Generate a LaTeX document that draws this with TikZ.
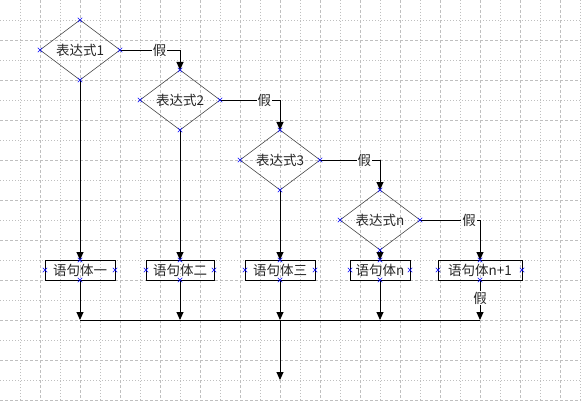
\documentclass[tikz,border=0pt]{standalone}
\usepackage{fontspec}
\setmainfont{Noto Sans CJK SC}
\usetikzlibrary{shapes.geometric,shapes.misc,arrows.meta}

\begin{document}
\begin{tikzpicture}[x=1pt,y=-1pt,>={Triangle[width=7pt,length=8pt]},
    cond/.style={diamond,draw=black!70,line width=0.6pt,aspect=1.333,
        minimum width=80pt,minimum height=60pt,inner sep=0pt,outer sep=0pt,
        text=black!85,font=\fontsize{13.5}{15}\selectfont},
    stmt/.style={rectangle,draw=black,line width=0.8pt,minimum height=20pt,
        inner sep=0pt,outer sep=0pt,text=black!85,font=\fontsize{13.5}{15}\selectfont},
    flow/.style={->,line width=0.9pt},
    lbl/.style={fill=white,inner sep=1pt,text=black!85,font=\fontsize{13.5}{15}\selectfont},
    xpt/.style={cross out,draw=blue,line width=0.5pt,minimum size=4pt,inner sep=0pt}]
    % Background and grid
    \fill[white] (0,0) rectangle (581,401);
    \useasboundingbox (0,0) rectangle (581,401);
    \foreach \x in {20,60,...,580}
        \draw[gray!50,line width=0.6pt,dash pattern=on 1pt off 2pt] (\x,0) -- (\x,401);
    \foreach \x in {40,80,...,560}
        \draw[gray!50,line width=0.6pt,dash pattern=on 3pt off 2pt] (\x,0) -- (\x,401);
    \foreach \y in {20,60,...,380}
        \draw[gray!50,line width=0.6pt,dash pattern=on 1pt off 2pt] (0,\y) -- (581,\y);
    \foreach \y in {40,80,...,400}
        \draw[gray!50,line width=0.6pt,dash pattern=on 3pt off 2pt] (0,\y) -- (581,\y);
    % Conditions
    \node[cond] (d1) at (80,50) {表达式1};
    \node[cond] (d2) at (180,100) {表达式2};
    \node[cond] (d3) at (280,160) {表达式3};
    \node[cond] (dn) at (380,220) {表达式n};
    % Statements
    \node[stmt,minimum width=70pt] (b1) at (80,270) {语句体一};
    \node[stmt,minimum width=68pt] (b2) at (180,270) {语句体二};
    \node[stmt,minimum width=70pt] (b3) at (280,270) {语句体三};
    \node[stmt,minimum width=60pt] (bn) at (380,270) {语句体n};
    \node[stmt,minimum width=84pt] (bm) at (480,270) {语句体n+1};
    % False branches
    \draw[flow] (d1.east) -| node[lbl,pos=0.33] {假} (d2.north);
    \draw[flow] (d2.east) -| node[lbl,pos=0.37] {假} (d3.north);
    \draw[flow] (d3.east) -| node[lbl,pos=0.37] {假} (dn.north);
    \draw[flow] (dn.east) -| node[lbl,pos=0.41] {假} (bm.north);
    % True branches
    \draw[flow] (d1.south) -- (b1.north);
    \draw[flow] (d2.south) -- (b2.north);
    \draw[flow] (d3.south) -- (b3.north);
    \draw[flow] (dn.south) -- (bn.north);
    % Join line and exit
    \coordinate (j1) at (80,320);
    \coordinate (j2) at (180,320);
    \coordinate (j3) at (280,320);
    \coordinate (j4) at (380,320);
    \coordinate (j5) at (480,320);
    \coordinate (exit) at (280,380);
    \draw[flow] (b1.south) -- (j1);
    \draw[flow] (b2.south) -- (j2);
    \draw[flow] (b3.south) -- (j3);
    \draw[flow] (bn.south) -- (j4);
    \draw[flow] (bm.south) -- node[lbl,pos=0.45] {假} (j5);
    \draw[line width=0.9pt] (j1) -- (j5);
    \draw[flow] (j3) -- (exit);
    % Connection points
    \foreach \n in {d1,d2,d3,dn,b1,b2,b3,bn,bm}
        \foreach \a in {north,south,east,west}
            \node[xpt] at (\n.\a) {};
\end{tikzpicture}
\end{document}
